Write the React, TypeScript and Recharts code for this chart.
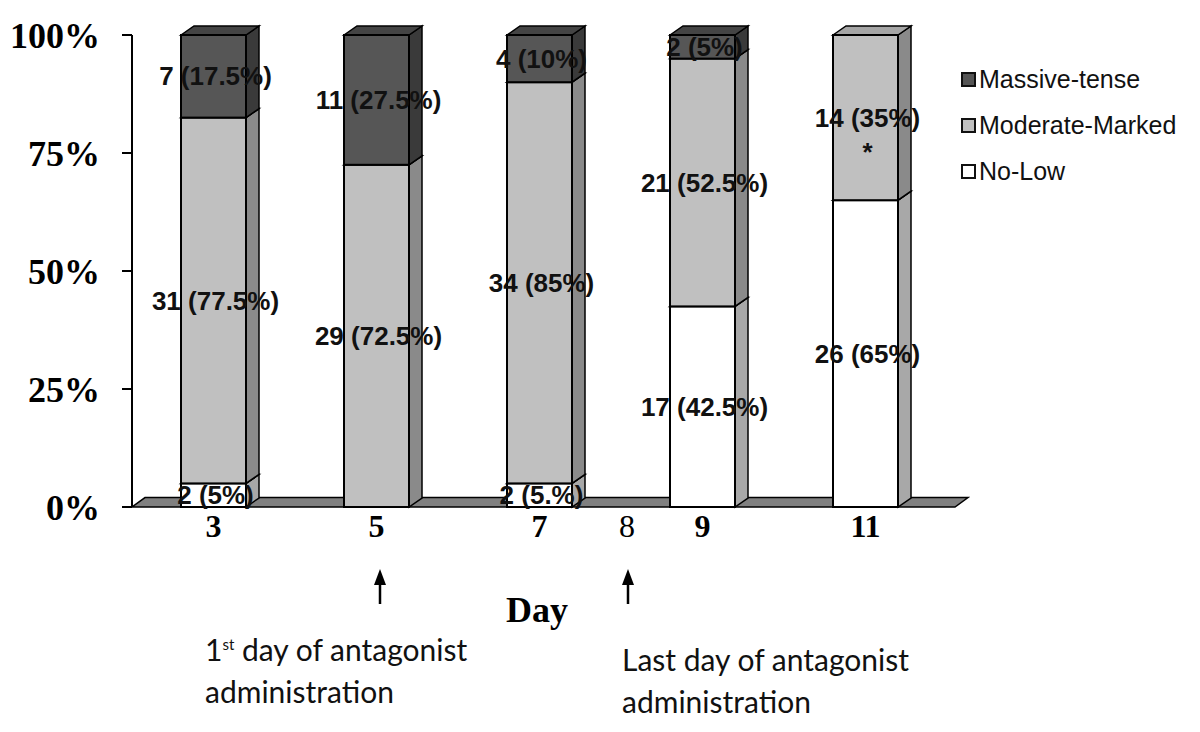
import React from "react"
import { BarChart, Bar, XAxis, YAxis, LabelList, ReferenceArea } from "recharts"

const days = ["3", "5", "7", "9", "11"]
const noLowPct = [5, 0, 5, 42.5, 65]
const moderatePct = [77.5, 72.5, 85, 52.5, 35]
const massivePct = [17.5, 27.5, 10, 5, 0]
const noLowLabels = ["2 (5%)", "", "2 (5.%)", "17 (42.5%)", "26 (65%)"]
const moderateLabels = ["31 (77.5%)", "29 (72.5%)", "34 (85%)", "21 (52.5%)", "14 (35%)\n*"]
const massiveLabels = ["7 (17.5%)", "11 (27.5%)", "4 (10%)", "2 (5%)", ""]
const yTicks = [0, 25, 50, 75, 100]

const chartData = days.map((day, i) => ({
  day,
  noLow: noLowPct[i],
  moderate: moderatePct[i],
  massive: massivePct[i],
  noLowLabel: noLowLabels[i],
  moderateLabel: moderateLabels[i],
  massiveLabel: massiveLabels[i],
}))

const DX = 13
const DY = 9

const make3D = (front: string, side: string, top: string) => (props: any) => {
  const { x, y, width, height } = props
  if (!height || height <= 0) return null
  return (
    <g>
      <polygon
        points={`${x + width},${y} ${x + width + DX},${y - DY} ${x + width + DX},${y + height - DY} ${x + width},${y + height}`}
        fill={side}
        stroke="#000"
        strokeWidth={1.5}
      />
      <polygon
        points={`${x},${y} ${x + DX},${y - DY} ${x + width + DX},${y - DY} ${x + width},${y}`}
        fill={top}
        stroke="#000"
        strokeWidth={1.5}
      />
      <rect x={x} y={y} width={width} height={height} fill={front} stroke="#000" strokeWidth={2} />
    </g>
  )
}

const floorShape = (props: any) => {
  const { x, y, width, height } = props
  return (
    <polygon
      points={`${x},${y + height} ${x + width + 8},${y + height} ${x + width + 8 + DX},${y} ${x + DX},${y}`}
      fill="#808080"
      stroke="#000"
      strokeWidth={1.5}
    />
  )
}

const segLabel = (props: any) => {
  const { x, y, width, height, value } = props
  if (!value) return null
  const lines = String(value).split("\n")
  const cx = x + width / 2 + 2
  const cy = y + height / 2
  return (
    <text
      x={cx}
      y={cy}
      textAnchor="middle"
      fontFamily="'Liberation Sans', Arial, sans-serif"
      fontWeight="bold"
      fontSize={26}
      fill="#111"
    >
      {lines.map((l, k) => (
        <tspan key={k} x={cx} dy={k === 0 ? "0.35em" : "1.3em"}>
          {l}
        </tspan>
      ))}
    </text>
  )
}

const legendItems = [
  { name: "Massive-tense", color: "#555" },
  { name: "Moderate-Marked", color: "#c0c0c0" },
  { name: "No-Low", color: "#fff" },
]

const serif = "'Liberation Serif', 'Times New Roman', serif"
const sans = "Lato, 'Open Sans', sans-serif"

export default function App() {
  return (
    <div style={{ position: "relative", width: 1184, height: 716 }}>
      <BarChart
        width={1184}
        height={716}
        data={chartData}
        margin={{ top: 27, right: 245, bottom: 177, left: 0 }}
        barSize={65}
      >
        <XAxis
          dataKey="day"
          axisLine={false}
          tickLine={false}
          tickSize={0}
          tickMargin={7}
          height={40}
          tick={{ fontFamily: serif, fontWeight: "bold", fontSize: 32, fill: "#000" }}
        />
        <YAxis
          domain={[0, 100]}
          ticks={yTicks}
          width={124}
          tickFormatter={(v) => `${v}%`}
          axisLine={{ stroke: "#000", strokeWidth: 2 }}
          tickLine={{ stroke: "#000", strokeWidth: 2 }}
          tickSize={10}
          tickMargin={22}
          tick={{ fontFamily: serif, fontWeight: "bold", fontSize: 36, fill: "#000" }}
        />
        <ReferenceArea y1={0} y2={2} shape={floorShape} zIndex={-10} />
        <Bar dataKey="noLow" stackId="a" isAnimationActive={false} shape={make3D("#ffffff", "#a8a8a8", "#d8d8d8")}>
          <LabelList dataKey="noLowLabel" content={segLabel} />
        </Bar>
        <Bar dataKey="moderate" stackId="a" isAnimationActive={false} shape={make3D("#c0c0c0", "#8a8a8a", "#a6a6a6")}>
          <LabelList dataKey="moderateLabel" content={segLabel} />
        </Bar>
        <Bar dataKey="massive" stackId="a" isAnimationActive={false} shape={make3D("#565656", "#3a3a3a", "#444444")}>
          <LabelList dataKey="massiveLabel" content={segLabel} />
        </Bar>
      </BarChart>

      <div
        style={{
          position: "absolute",
          left: 961 - 8,
          top: 56 - 8,
          fontFamily: "'Liberation Sans', Arial, sans-serif",
          fontSize: 25,
          color: "#111",
        }}
      >
        {legendItems.map((it) => (
          <div key={it.name} style={{ display: "flex", alignItems: "center", height: 46 }}>
            <span
              style={{
                width: 11,
                height: 11,
                border: "2px solid #111",
                background: it.color,
                marginRight: 3,
                display: "inline-block",
              }}
            />
            {it.name}
          </div>
        ))}
      </div>

      <div
        style={{
          position: "absolute",
          left: 627 - 8 - 20,
          top: 526 - 8 - 20,
          width: 40,
          height: 40,
          lineHeight: "40px",
          textAlign: "center",
          fontFamily: serif,
          fontSize: 32,
        }}
      >
        8
      </div>
      <div
        style={{
          position: "absolute",
          left: 537 - 8 - 60,
          top: 610 - 8 - 22,
          width: 120,
          lineHeight: "44px",
          textAlign: "center",
          fontFamily: serif,
          fontWeight: "bold",
          fontSize: 36,
        }}
      >
        Day
      </div>
      <svg style={{ position: "absolute", left: 0, top: 0 }} width={1184} height={716}>
        {[380, 628].map((ax) => (
          <g key={ax}>
            <line x1={ax - 8} y1={574} x2={ax - 8} y2={596} stroke="#000" strokeWidth={2.5} />
            <polygon points={`${ax - 8},${561} ${ax - 14},${577} ${ax - 2},${577}`} fill="#000" />
          </g>
        ))}
      </svg>
      <div style={{ position: "absolute", left: 205 - 8, top: 623 - 8, fontFamily: sans, fontSize: 30, lineHeight: "42px", color: "#111" }}>
        <div>
          1<sup style={{ fontSize: 15 }}>st</sup> day of antagonist
        </div>
        <div>administration</div>
      </div>
      <div style={{ position: "absolute", left: 622 - 8, top: 638 - 8, fontFamily: sans, fontSize: 30, lineHeight: "42px", color: "#111" }}>
        <div>Last day of antagonist</div>
        <div>administration</div>
      </div>
    </div>
  )
}
